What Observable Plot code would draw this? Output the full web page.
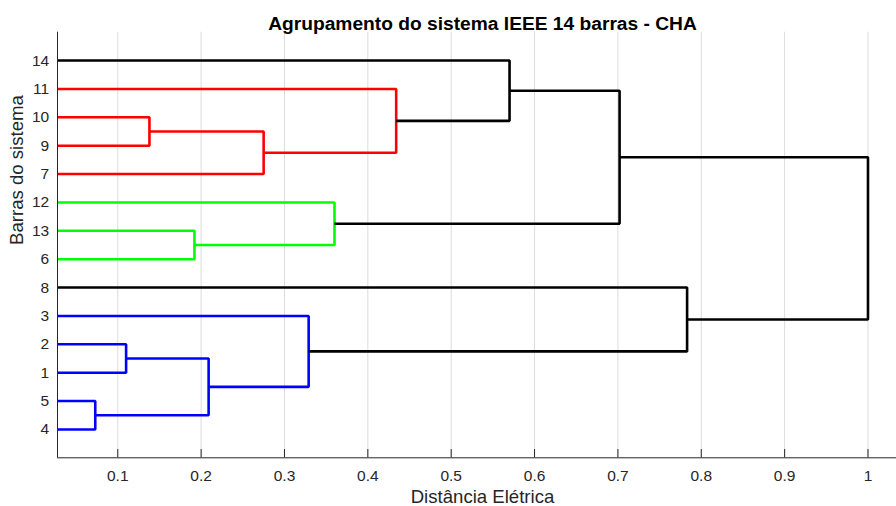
<!DOCTYPE html>
<html>
<head>
<meta charset="utf-8">
<script src="https://cdn.jsdelivr.net/npm/d3@7"></script>
<script src="https://cdn.jsdelivr.net/npm/@observablehq/plot@0.6"></script>
<style>
  html, body { margin: 0; padding: 0; background: #fff; }
  #chart { width: 896px; height: 506px; overflow: hidden; }
</style>
</head>
<body>
<div id="chart"></div>
<script>
// ---- Data ----
const title = "Agrupamento do sistema IEEE 14 barras - CHA";
const xLabel = "Distância Elétrica";
const yLabel = "Barras do sistema";

// leaves, top to bottom
const leafLabels = ["14", "11", "10", "9", "7", "12", "13", "6", "8", "3", "2", "1", "5", "4"];

// merges (cluster ids c1..c13 in merge order)
const linkIds    = ["c1", "c2", "c3", "c4", "c5", "c6", "c7", "c8", "c9", "c10", "c11", "c12", "c13"];
const linkLeft   = ["5", "2", "10", "13", "c2", "c3", "3", "12", "11", "14", "c10", "8", "c11"];
const linkRight  = ["4", "1", "9", "6", "c1", "7", "c5", "c4", "c6", "c9", "c8", "c7", "c12"];
const linkHeight = [0.073, 0.110, 0.138, 0.192, 0.209, 0.275, 0.329, 0.360, 0.434, 0.570, 0.702, 0.783, 1.0];
const linkColor  = ["#0000ff", "#0000ff", "#ff0000", "#00ff00", "#0000ff", "#ff0000", "#0000ff", "#00ff00", "#ff0000", "#000000", "#000000", "#000000", "#000000"];

const xTicks = [0.1, 0.2, 0.3, 0.4, 0.5, 0.6, 0.7, 0.8, 0.9, 1];
const xTickLabels = ["0.1", "0.2", "0.3", "0.4", "0.5", "0.6", "0.7", "0.8", "0.9", "1"];

// ---- Build dendrogram geometry from the data ----
const nLeaves = leafLabels.length;
const nodeY = new Map();
const nodeH = new Map();
leafLabels.forEach((l, i) => { nodeY.set(l, nLeaves - i); nodeH.set(l, 0); });
const paths = [];
linkIds.forEach((id, i) => {
  const a = linkLeft[i], b = linkRight[i], h = linkHeight[i];
  const ya = nodeY.get(a), yb = nodeY.get(b);
  nodeY.set(id, (ya + yb) / 2);
  nodeH.set(id, h);
  const pts = [[nodeH.get(a), ya], [h, ya], [h, yb], [nodeH.get(b), yb]];
  pts.forEach(([x, y]) => paths.push({id, x, y, color: linkColor[i]}));
});
const leafTicks = leafLabels.map(l => ({y: nodeY.get(l), label: l}));
const xTickData = xTicks.map((x, i) => ({x, label: xTickLabels[i]}));

const xMin = 0.0277, xMax = 1.0474;
const font = "'Liberation Sans', Arial, Helvetica, sans-serif";

const chart = Plot.plot({
  width: 896,
  height: 506,
  marginLeft: 57,
  marginRight: -11,
  marginTop: 31.7,
  marginBottom: 48.7,
  style: {fontFamily: font, fontSize: "15px", color: "#262626", background: "#fff", overflow: "visible"},
  x: {domain: [xMin, xMax], axis: null},
  y: {domain: [0, nLeaves + 1], axis: null},
  color: {type: "identity"},
  marks: [
    Plot.gridX(xTicks, {stroke: "#dcdcdc", strokeOpacity: 1, strokeWidth: 1}),
    Plot.line(paths, {x: "x", y: "y", z: "id", stroke: "color", strokeWidth: 2.6,
      strokeLinejoin: "miter", strokeLinecap: "butt", clip: true}),
    Plot.ruleX(xTicks, {y1: 0, y2: 0.29, stroke: "#262626", strokeWidth: 1}),
    Plot.ruleX([xMin], {stroke: "#262626", strokeWidth: 1}),
    Plot.ruleY([0], {stroke: "#262626", strokeWidth: 1}),
    Plot.text(xTickData, {x: "x", text: "label", frameAnchor: "bottom", dy: 18.4, lineAnchor: "middle",
      fontSize: 15.5, fill: "#262626"}),
    Plot.text(leafTicks, {y: "y", text: "label", frameAnchor: "left", dx: -8.3, textAnchor: "end", lineAnchor: "middle",
      fontSize: 15.5, fill: "#262626"}),
    Plot.text([xLabel], {frameAnchor: "bottom", dy: 39.3, lineAnchor: "middle", fontSize: 18.6, fill: "#262626", text: d => d}),
    Plot.text([yLabel], {frameAnchor: "left", dx: -40.5, rotate: -90, lineAnchor: "middle", fontSize: 18.6, fill: "#262626", text: d => d}),
    Plot.text([title], {frameAnchor: "top", dy: -8.8, lineAnchor: "middle", fontSize: 19.2, fontWeight: "bold", fill: "#000", text: d => d})
  ]
});
document.getElementById("chart").appendChild(chart);
</script>
</body>
</html>
